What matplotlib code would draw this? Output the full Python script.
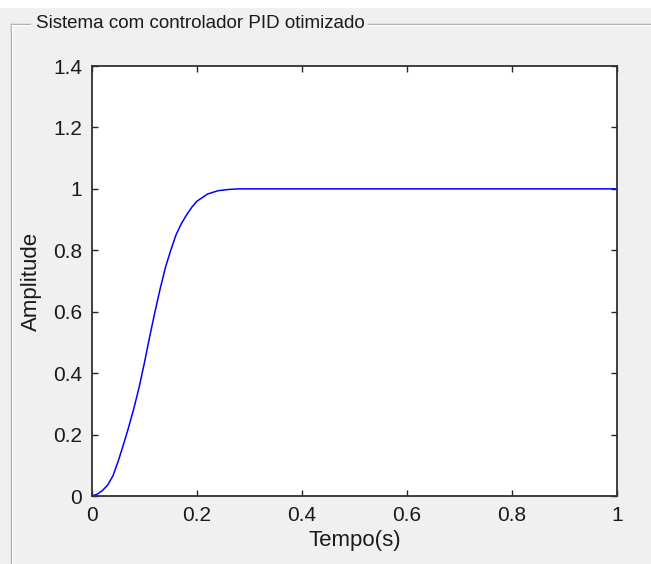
import matplotlib
matplotlib.use('Agg')
import matplotlib.pyplot as plt
from matplotlib.lines import Line2D

plt.rcParams['font.family'] = ['Liberation Sans', 'DejaVu Sans']

# step response
tempo = [0.0, 0.01, 0.02, 0.03, 0.04, 0.05, 0.06, 0.07, 0.08, 0.09, 0.10,
         0.11, 0.12, 0.13, 0.14, 0.15, 0.16, 0.17, 0.18, 0.19, 0.20,
         0.22, 0.24, 0.26, 0.28, 0.30, 1.0]
amplitude = [0.0, 0.006, 0.018, 0.036, 0.066, 0.114, 0.168, 0.225, 0.287, 0.356, 0.435,
             0.52, 0.60, 0.676, 0.745, 0.80, 0.85, 0.886, 0.915, 0.94, 0.96,
             0.983, 0.994, 0.998, 1.0, 1.0, 1.0]

xticks = [0, 0.2, 0.4, 0.6, 0.8, 1]
xtick_labels = ['0', '0.2', '0.4', '0.6', '0.8', '1']
yticks = [0, 0.2, 0.4, 0.6, 0.8, 1, 1.2, 1.4]
ytick_labels = ['0', '0.2', '0.4', '0.6', '0.8', '1', '1.2', '1.4']

panel_title = 'Sistema com controlador PID otimizado'

W, H = 651, 564
fig = plt.figure(figsize=(W / 100, H / 100), dpi=100)
fig.patch.set_facecolor('#f0f0f0')

# white band on top of the screenshot
fig.patches.append(plt.Rectangle((0, 1 - 8 / H), 1, 8 / H, transform=fig.transFigure,
                                 facecolor='white', edgecolor='none', zorder=0))

# uipanel frame (etched line)
def fx(px):
    return px / W

def fy(py):
    return 1 - py / H

for off, col in [(0, '#a0a0a0'), (1, '#ffffff')]:
    fig.add_artist(Line2D([fx(11 + off), fx(11 + off)], [fy(24 + off), fy(H)], color=col, lw=1.0))
    fig.add_artist(Line2D([fx(11 + off), fx(30)], [fy(24 + off), fy(24 + off)], color=col, lw=1.0))
    fig.add_artist(Line2D([fx(368), fx(W)], [fy(24 + off), fy(24 + off)], color=col, lw=1.0))

fig.text(fx(36), fy(23), panel_title, fontsize=13.5, color='#1a1a1a',
         ha='left', va='center')

ax = fig.add_axes([fx(92), fy(496), fx(617) - fx(92), fy(66) - fy(496)])
ax.set_facecolor('white')
ax.plot(tempo, amplitude, color='#0000ff', lw=1.1)

ax.set_xlim(0, 1)
ax.set_ylim(0, 1.4)
ax.set_xticks(xticks)
ax.set_xticklabels(xtick_labels)
ax.set_yticks(yticks)
ax.set_yticklabels(ytick_labels)
ax.tick_params(direction='in', length=4, width=1.0, color='#262626',
               top=True, right=True, labelsize=15, labelcolor='#1a1a1a', pad=7)
for s in ax.spines.values():
    s.set_color('#303030')
    s.set_linewidth(1.3)

ax.set_xlabel('Tempo(s)', fontsize=16, color='#1a1a1a', labelpad=4)
ax.set_ylabel('Amplitude', fontsize=16, color='#1a1a1a', labelpad=8)

fig.savefig('out.png', dpi=100, facecolor=fig.get_facecolor())
